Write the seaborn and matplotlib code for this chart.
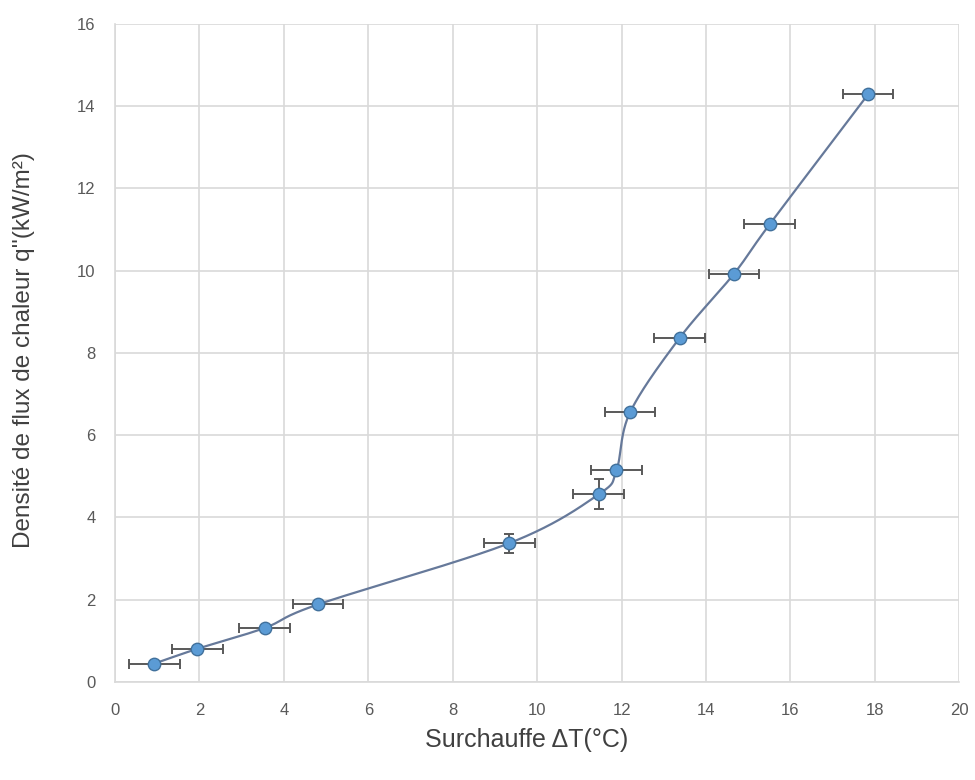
import numpy as np
import matplotlib
matplotlib.use("Agg")
import matplotlib.pyplot as plt
import seaborn as sns

# values
surchauffe = [0.93, 1.95, 3.55, 4.81, 9.34, 11.46, 11.88, 12.20, 13.38, 14.66, 15.51, 17.84]
flux = [0.44, 0.80, 1.31, 1.88, 3.37, 4.56, 5.15, 6.55, 8.37, 9.92, 11.13, 14.29]
err_x = [0.6] * 12
err_y = [0, 0, 0, 0, 0.23, 0.37, 0, 0, 0, 0, 0, 0]
x_ticks = [0, 2, 4, 6, 8, 10, 12, 14, 16, 18, 20]
y_ticks = [0, 2, 4, 6, 8, 10, 12, 14, 16]

sns.set_theme(style="whitegrid")
plt.rcParams['font.family'] = ['Liberation Sans', 'DejaVu Sans']


def smooth_curve(xs, ys, n=40):
    # Excel-like smoothed line (Catmull-Rom style Bezier segments)
    pts = np.column_stack([xs, ys])
    out = []
    for i in range(len(pts) - 1):
        p0 = pts[i - 1] if i > 0 else pts[i]
        p1 = pts[i]
        p2 = pts[i + 1]
        p3 = pts[i + 2] if i + 2 < len(pts) else pts[i + 1]
        c1 = p1 + (p2 - p0) / 6
        c2 = p2 - (p3 - p1) / 6
        t = np.linspace(0, 1, n)[:, None]
        seg = ((1 - t) ** 3) * p1 + 3 * ((1 - t) ** 2) * t * c1 + 3 * (1 - t) * t ** 2 * c2 + t ** 3 * p2
        out.append(seg)
    out = np.vstack(out)
    return out[:, 0], out[:, 1]


fig = plt.figure(figsize=(9.75, 7.8), dpi=100)
ax = fig.add_axes([0.1179, 0.126, 0.866, 0.8432])

cx, cy = smooth_curve(surchauffe, flux)
ax.plot(cx, cy, color='#66799a', lw=1.6, zorder=2)

ax.errorbar(surchauffe, flux, xerr=err_x, yerr=err_y, fmt='none',
            ecolor='#595959', elinewidth=1.4, capsize=3.3, capthick=1.4, zorder=3)

sns.scatterplot(x=surchauffe, y=flux, ax=ax, s=80, color='#5b9bd5',
                edgecolor='#41719c', linewidth=1.0, zorder=4)

ax.set_xlim(0, 20)
ax.set_ylim(0, 16)
ax.set_xticks(x_ticks)
ax.set_yticks(y_ticks)
ax.grid(True, color='#d9d9d9', lw=1.2)
for side in ['top', 'right']:
    ax.spines[side].set_visible(False)
for side in ['left', 'bottom']:
    ax.spines[side].set_color('#d9d9d9')
    ax.spines[side].set_linewidth(1.2)
ax.tick_params(axis='x', colors='#595959', labelsize=12, length=0, pad=15)
ax.tick_params(axis='y', colors='#595959', labelsize=12, length=0, pad=14)

ax.set_xlabel("Surchauffe ΔT(°C)", fontsize=18, color='#404040')
ax.set_ylabel("Densité de flux de chaleur q''(kW/m²)", fontsize=17.5, color='#404040')
ax.xaxis.label.set_va('center')
ax.yaxis.label.set_va('center')
ax.xaxis.set_label_coords(0.487, -0.0886)
ax.yaxis.set_label_coords(-0.108, 0.505)

fig.savefig("out.png", dpi=100, facecolor='white')
